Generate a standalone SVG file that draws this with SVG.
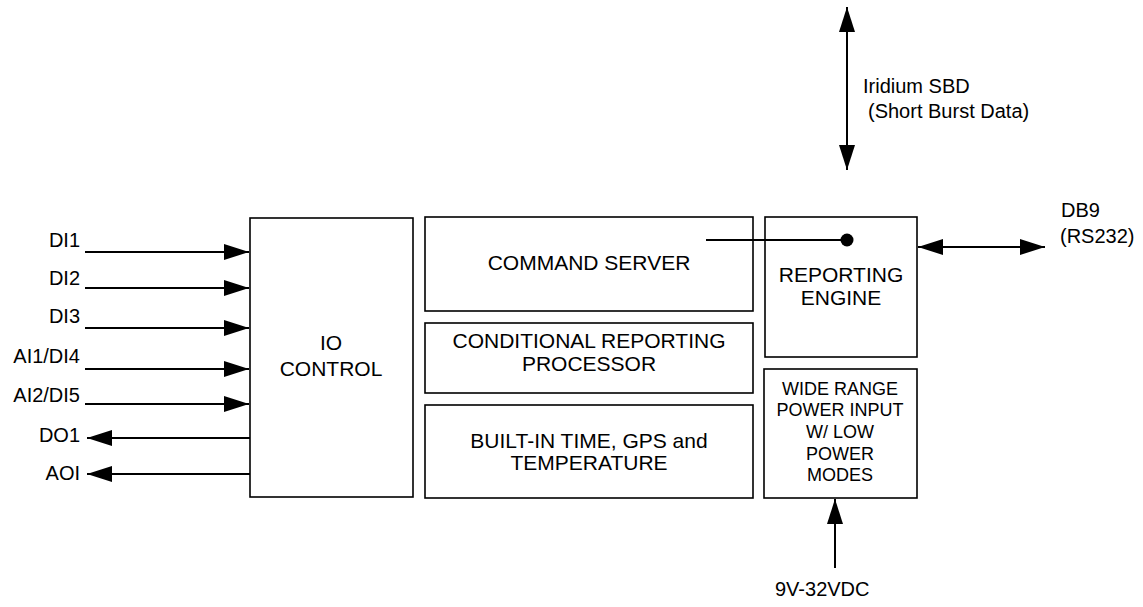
<svg xmlns="http://www.w3.org/2000/svg" width="1143" height="607" viewBox="0 0 1143 607">
<style>
.box{fill:#fff;stroke:#000;stroke-width:1.6}
.t{font-family:"Liberation Sans",Arial,sans-serif;font-size:20px;fill:#000}
.b{font-size:21px}
.c{text-anchor:middle}
.e{text-anchor:end}
.s{font-size:18px}
.ln{stroke:#000;stroke-width:2;fill:none}
</style>
<defs>
<marker id="ah" markerUnits="userSpaceOnUse" markerWidth="25" markerHeight="16" refX="25" refY="8" orient="auto-start-reverse">
<path d="M0,0 L25,8 L0,16 z" fill="#000"/>
</marker>
</defs>
<rect width="1143" height="607" fill="#fff"/>
<g id="io-control">
<rect class="box" x="250" y="218" width="163" height="279"/>
<text class="t b c" x="331" y="350">IO</text>
<text class="t b c" x="331" y="376">CONTROL</text>
</g>
<g id="command-server">
<rect class="box" x="425" y="217" width="328" height="94"/>
<text class="t b c" x="589" y="270">COMMAND SERVER</text>
</g>
<g id="conditional">
<rect class="box" x="425" y="323" width="328" height="70"/>
<text class="t b c" x="589" y="348">CONDITIONAL REPORTING</text>
<text class="t b c" x="589" y="371">PROCESSOR</text>
</g>
<g id="builtin">
<rect class="box" x="425" y="405" width="328" height="93"/>
<text class="t b c" x="589" y="448">BUILT-IN TIME, GPS and</text>
<text class="t b c" x="589" y="470">TEMPERATURE</text>
</g>
<g id="reporting-engine">
<rect class="box" x="765" y="217" width="152" height="140"/>
<text class="t b c" x="841" y="282">REPORTING</text>
<text class="t b c" x="841" y="305">ENGINE</text>
</g>
<g id="power">
<rect class="box" x="764" y="369" width="153" height="129"/>
<text class="t s c" x="840" y="395">WIDE RANGE</text>
<text class="t s c" x="840" y="416">POWER INPUT</text>
<text class="t s c" x="840" y="438">W/ LOW</text>
<text class="t s c" x="840" y="460">POWER</text>
<text class="t s c" x="840" y="481">MODES</text>
</g>
<g id="labels">
<text class="t e" x="80" y="247">DI1</text>
<text class="t e" x="80" y="285">DI2</text>
<text class="t e" x="80" y="323">DI3</text>
<text class="t e" x="80" y="363">AI1/DI4</text>
<text class="t e" x="80" y="402">AI2/DI5</text>
<text class="t e" x="80" y="442">DO1</text>
<text class="t e" x="80" y="480">AOI</text>
<text class="t" x="863" y="93">Iridium SBD</text>
<text class="t" x="868" y="118">(Short Burst Data)</text>
<text class="t" x="1061" y="217">DB9</text>
<text class="t" x="1060" y="243">(RS232)</text>
<text class="t" x="775" y="596">9V-32VDC</text>
</g>
<g id="connectors">
<line class="ln" x1="85" y1="252" x2="249" y2="252" marker-end="url(#ah)"/>
<line class="ln" x1="85" y1="288" x2="249" y2="288" marker-end="url(#ah)"/>
<line class="ln" x1="85" y1="328" x2="249" y2="328" marker-end="url(#ah)"/>
<line class="ln" x1="85" y1="369" x2="249" y2="369" marker-end="url(#ah)"/>
<line class="ln" x1="85" y1="404" x2="249" y2="404" marker-end="url(#ah)"/>
<line class="ln" x1="250" y1="438" x2="87" y2="438" marker-end="url(#ah)"/>
<line class="ln" x1="250" y1="474" x2="87" y2="474" marker-end="url(#ah)"/>
<line class="ln" x1="847" y1="7" x2="847" y2="170" marker-start="url(#ah)" marker-end="url(#ah)"/>
<line class="ln" x1="918" y1="247" x2="1045" y2="247" marker-start="url(#ah)" marker-end="url(#ah)"/>
<line class="ln" x1="835" y1="568" x2="835" y2="499" marker-end="url(#ah)"/>
<line class="ln" x1="706" y1="240" x2="847" y2="240"/>
<circle cx="847" cy="240" r="6.5" fill="#000"/>
</g>
</svg>
